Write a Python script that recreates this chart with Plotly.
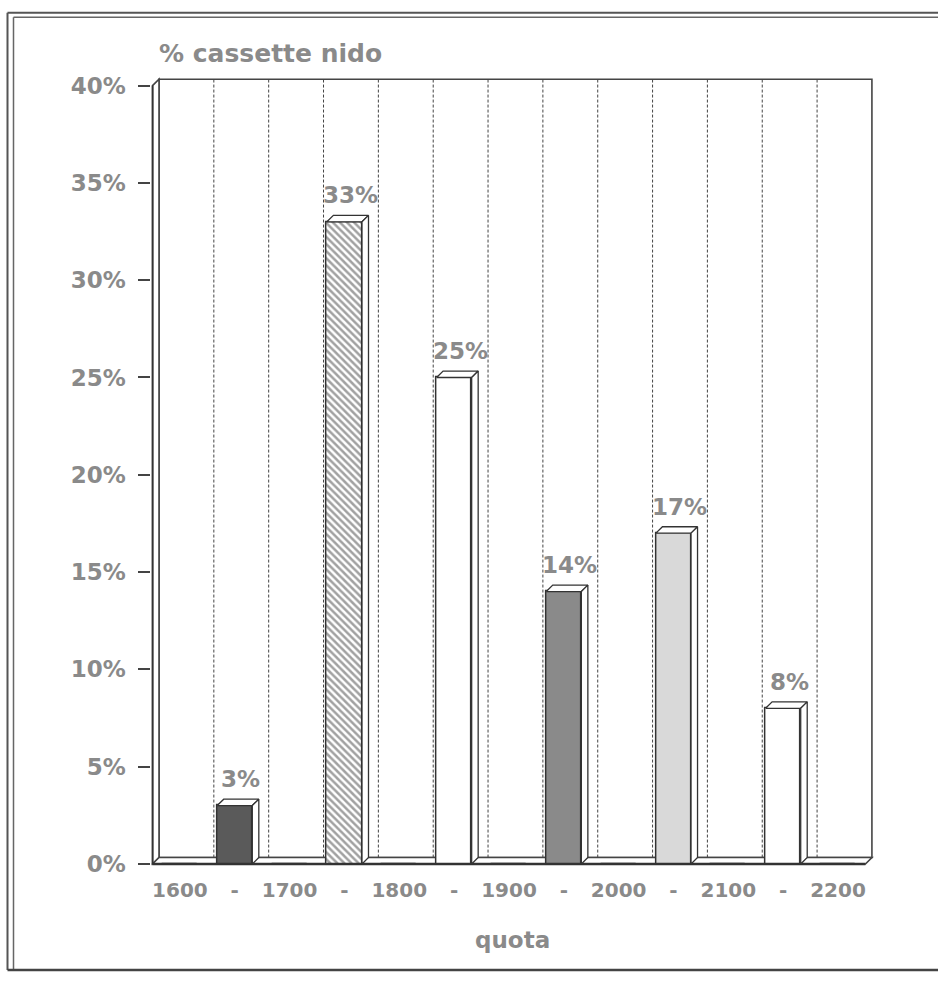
import plotly.graph_objects as go

# ---------------- data ----------------
categories = ["1600", "-", "1700", "-", "1800", "-", "1900", "-", "2000", "-", "2100", "-", "2200"]
values = [0, 3, 0, 33, 0, 25, 0, 14, 0, 17, 0, 8, 0]
bar_colors = ["#ffffff", "#5a5a5a", "#ffffff", "#ffffff", "#ffffff", "#ffffff", "#ffffff",
              "#8a8a8a", "#ffffff", "#d9d9d9", "#ffffff", "#ffffff", "#ffffff"]
bar_patterns = ["", "", "", "\\", "", "", "", "", "", "", "", "", ""]
y_tickvals = [0, 5, 10, 15, 20, 25, 30, 35, 40]
y_ticktext = ["0%", "5%", "10%", "15%", "20%", "25%", "30%", "35%", "40%"]
chart_title = "% cassette nido"
x_title = "quota"

# ---------------- geometry / style ----------------
W, H = 938, 983
PX_X0 = 152.5        # pixel of x = -0.5 (front plane)
PX_PER_X = 54.84
PX_Y0 = 872.5        # pixel of y = 0 (front plane)
PX_PER_Y = 19.72
DEPTH = 6.5
dx = DEPTH / PX_PER_X
dy = DEPTH / PX_PER_Y
BAR_W = 0.64
n = len(categories)
xs = list(range(n))

xr = [-0.52, n - 0.5 + dx + 0.05]
yr = [-0.15, max(y_tickvals) + dy + 0.15]
xdom = [(PX_X0 + (xr[0] + 0.5) * PX_PER_X) / W, (PX_X0 + (xr[1] + 0.5) * PX_PER_X) / W]
ydom = [1 - (PX_Y0 - yr[0] * PX_PER_Y) / H, 1 - (PX_Y0 - yr[1] * PX_PER_Y) / H]

TXT = "#8a8a8a"
LINE = "#444444"
FONT = "DejaVu Sans"
ymax = max(y_tickvals)
xl, xrgt = -0.5, n - 0.5

fig = go.Figure()

# front faces of bars
fig.add_trace(go.Bar(
    x=xs, y=values, width=BAR_W,
    marker=dict(color=bar_colors, line=dict(color="#333333", width=1.5),
                pattern=dict(shape=bar_patterns, fgcolor="#1e1e1e", bgcolor="#ffffff",
                             size=5, solidity=0.5)),
    hoverinfo="skip", showlegend=False,
))

# top and side faces
top_x, top_y, side_x, side_y = [], [], [], []
for xc, v in zip(xs, values):
    if v <= 0:
        continue
    a, b = xc - BAR_W / 2, xc + BAR_W / 2
    top_x += [a, a + dx, b + dx, b, a, None]
    top_y += [v, v + dy, v + dy, v, v, None]
    side_x += [b, b, b + dx, b + dx, b, None]
    side_y += [0, v, v + dy, dy, 0, None]
for px, py in ((top_x, top_y), (side_x, side_y)):
    fig.add_trace(go.Scatter(x=px, y=py, mode="lines", fill="toself", fillcolor="#ffffff",
                             line=dict(color="#333333", width=1.3), hoverinfo="skip",
                             showlegend=False))

shapes = []
# back panel
shapes.append(dict(type="rect", xref="x", yref="y", x0=xl + dx, x1=xrgt + dx, y0=dy, y1=ymax + dy,
                   line=dict(color=LINE, width=1.6), fillcolor="#ffffff", layer="below"))
# dashed gridlines on back panel at category boundaries
for k in range(n - 1):
    shapes.append(dict(type="line", xref="x", yref="y", x0=k + 0.5 + dx, x1=k + 0.5 + dx,
                       y0=dy, y1=ymax + dy, line=dict(color="#444444", width=1, dash="3px,2px"),
                       layer="below"))
# left wall
shapes.append(dict(type="path", xref="x", yref="y",
                   path=f"M{xl},0 L{xl},{ymax} L{xl + dx},{ymax + dy} L{xl + dx},{dy} Z",
                   line=dict(color=LINE, width=1.6), fillcolor="#ffffff", layer="below"))
# floor
shapes.append(dict(type="path", xref="x", yref="y",
                   path=f"M{xl},0 L{xrgt},0 L{xrgt + dx},{dy} L{xl + dx},{dy} Z",
                   line=dict(color=LINE, width=1.6), fillcolor="#ffffff", layer="below"))
shapes.append(dict(type="line", xref="x", yref="y", x0=xl, x1=xrgt, y0=0, y1=0,
                   line=dict(color="#333333", width=2.4), layer="below"))
shapes.append(dict(type="line", xref="x", yref="y", x0=xl, x1=xl, y0=0, y1=ymax,
                   line=dict(color="#333333", width=2), layer="below"))

# page frame (double border)
shapes += [
    dict(type="line", xref="paper", yref="paper", x0=7.5 / W, x1=7.5 / W, y0=1 - 980 / H, y1=1 - 10 / H,
         line=dict(color="#555555", width=2)),
    dict(type="line", xref="paper", yref="paper", x0=13.5 / W, x1=13.5 / W, y0=1 - 980 / H, y1=1 - 14.5 / H,
         line=dict(color="#666666", width=1.5)),
    dict(type="line", xref="paper", yref="paper", x0=7.5 / W, x1=1, y0=1 - 10 / H, y1=1 - 10 / H,
         line=dict(color="#555555", width=2)),
    dict(type="line", xref="paper", yref="paper", x0=13.5 / W, x1=1, y0=1 - 14.5 / H, y1=1 - 14.5 / H,
         line=dict(color="#666666", width=1.5)),
    dict(type="line", xref="paper", yref="paper", x0=7.5 / W, x1=1, y0=1 - 980 / H, y1=1 - 980 / H,
         line=dict(color="#444444", width=2.5)),
]

annotations = []
for xc, v in zip(xs, values):
    if v <= 0:
        continue
    annotations.append(dict(x=xc + dx / 2 + 0.05, y=v + dy, xref="x", yref="y", text=f"{v}%",
                            showarrow=False, yanchor="bottom", yshift=5,
                            font=dict(family=FONT, size=23, color=TXT, weight="bold")))
annotations.append(dict(x=157 / W, y=1 - 51.5 / H, xref="paper", yref="paper", text=chart_title,
                        showarrow=False, xanchor="left", yanchor="middle",
                        font=dict(family=FONT, size=25, color=TXT, weight="bold")))
annotations.append(dict(x=512.5 / W, y=1 - 949.5 / H, xref="paper", yref="paper", text=x_title,
                        showarrow=False, xanchor="center", yanchor="middle",
                        font=dict(family=FONT, size=23, color=TXT, weight="bold")))

fig.update_layout(
    width=W, height=H, autosize=False,
    margin=dict(l=0, r=0, t=0, b=0, pad=0),
    paper_bgcolor="#ffffff", plot_bgcolor="#ffffff",
    showlegend=False, bargap=0,
    shapes=shapes, annotations=annotations,
    xaxis=dict(domain=xdom, range=xr, tickvals=xs, ticktext=categories, ticks="",
               showgrid=False, zeroline=False, showline=False, ticklabelstandoff=9,
               tickfont=dict(family=FONT, size=20, color=TXT, weight="bold"), fixedrange=True),
    yaxis=dict(domain=ydom, range=yr, tickvals=y_tickvals, ticktext=y_ticktext,
               ticks="outside", ticklen=12, tickwidth=1.6, tickcolor="#444444",
               showgrid=False, zeroline=False, showline=False, ticklabelstandoff=8,
               tickfont=dict(family=FONT, size=23, color=TXT, weight="bold"), fixedrange=True),
)

fig.write_html("out.html")
